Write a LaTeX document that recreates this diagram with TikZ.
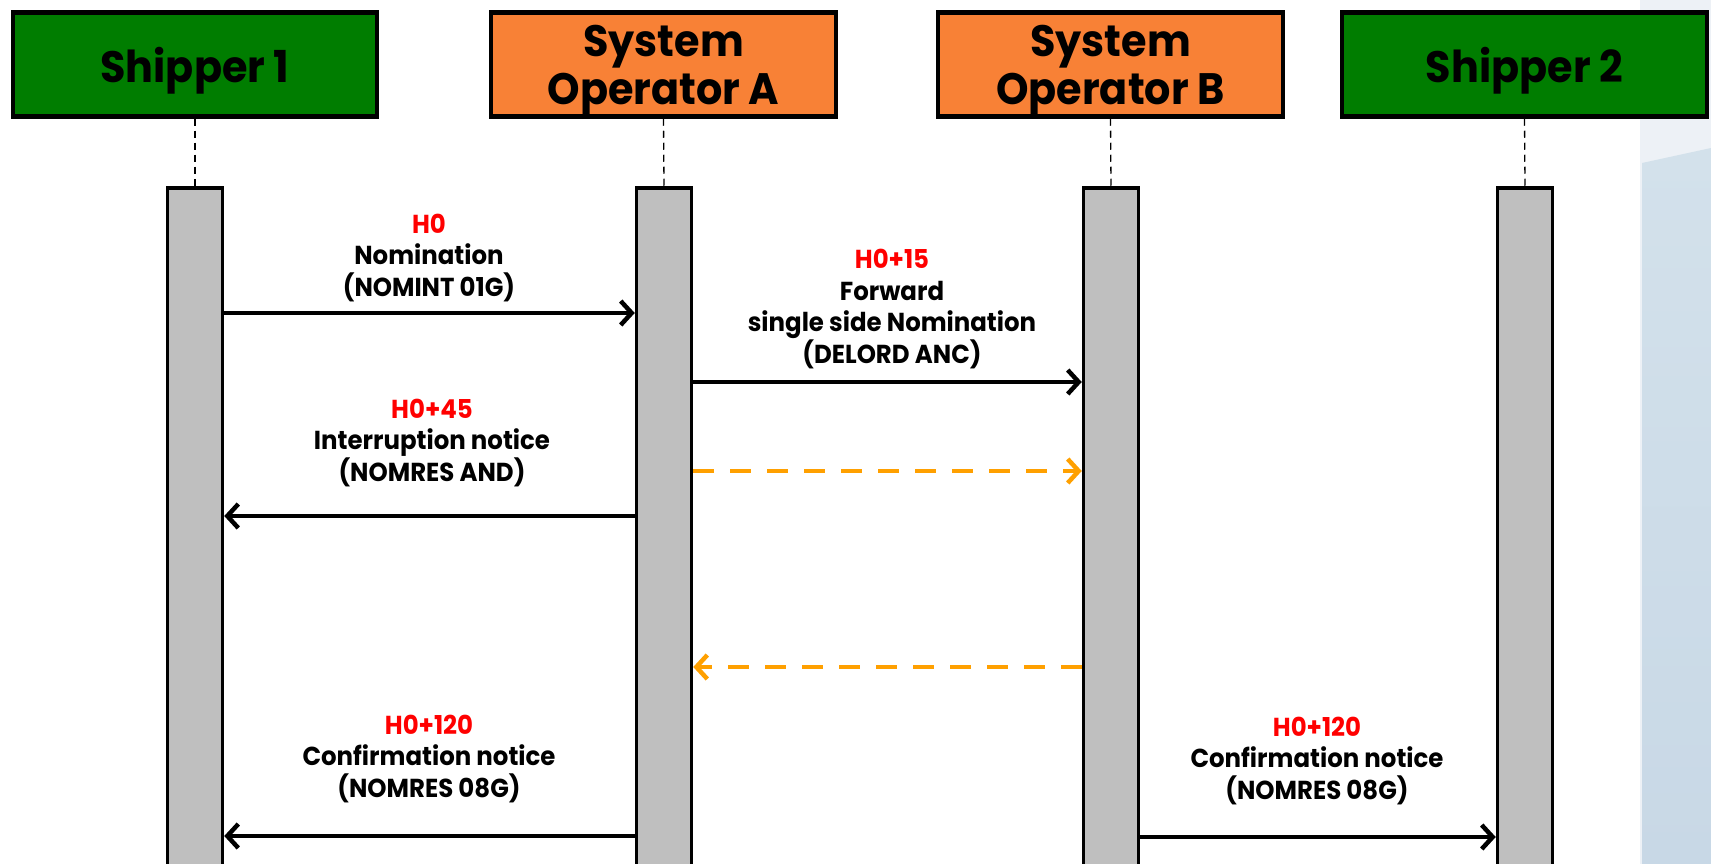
\documentclass[tikz,border=0pt]{standalone}
\usepackage{fontspec}
\setmainfont{Poppins}[FakeStretch=0.94]
\usetikzlibrary{arrows.meta}
\definecolor{shipgreen}{HTML}{007D00}
\definecolor{sysorange}{HTML}{F88136}
\definecolor{bargray}{HTML}{BFBFBF}
\definecolor{dashorange}{HTML}{FFA000}
\definecolor{timered}{HTML}{FF0000}
\definecolor{bgtop}{HTML}{EDF1F6}
\definecolor{bgmid}{HTML}{D3E1EB}
\definecolor{bgbot}{HTML}{C8D8E6}
\begin{document}
\begin{tikzpicture}[x=1pt,y=-1pt,
  actor/.style={draw=black, line width=4.5pt, minimum height=104pt, inner sep=0pt},
  shipper/.style={actor, fill=shipgreen},
  sysop/.style={actor, fill=sysorange},
  hdr/.style={align=center, inner sep=0pt, text=black, font=\bfseries\fontsize{44}{48}\selectfont},
  lifebar/.style={draw=black, fill=bargray, line width=3.5pt, minimum width=55pt,
    minimum height=720pt, inner sep=0pt, anchor=north},
  lifeline/.style={draw=black, line width=1.3pt, dash pattern=on 7pt off 5pt},
  msg/.style={draw=black, line width=4.5pt, -{Straight Barb[length=11pt,width=24pt,line width=4.5pt]}},
  dmsg/.style={draw=dashorange, line width=4.5pt, dash pattern=on 21pt off 16pt,
    -{Straight Barb[length=11pt,width=24pt,line width=4.5pt]}},
  lbl/.style={align=center, inner sep=0pt, text=black,
    font=\bfseries\fontsize{26}{31.6}\selectfont},
]
\useasboundingbox (0,0) rectangle (1711,864);
\clip (0,0) rectangle (1711,864);
\fill[bgtop] (1640,0) rectangle (1711,864);
\shade[top color=bgmid, bottom color=bgbot] (1642,163) -- (1711,148) -- (1711,864) -- (1642,864) -- cycle;

% actors
\node[shipper, minimum width=364pt] (s1) at (195,64.5) {};
\node[sysop, minimum width=345pt] (sa) at (663.5,64.5) {};
\node[sysop, minimum width=345pt] (sb) at (1110.5,64.5) {};
\node[shipper, minimum width=365pt] (s2) at (1524.5,64.5) {};
\node[hdr] (s1t) at ([yshift=-6pt]s1.center) {Shipper 1};
\node[hdr] (sat) at ([yshift=-6pt]sa.center) {System\\Operator A};
\node[hdr] (sbt) at ([yshift=-6pt]sb.center) {System\\Operator B};
\node[hdr] (s2t) at ([yshift=-6pt]s2.center) {Shipper 2};

% activation bars
\node[lifebar] (b1) at (195,186) {};
\node[lifebar] (ba) at (664,186) {};
\node[lifebar] (bb) at (1111,186) {};
\node[lifebar] (b2) at (1525,186) {};

% lifelines
\draw[lifeline] (s1.south) -- (b1.north);
\draw[lifeline] (sa.south) -- (ba.north);
\draw[lifeline] (sb.south) -- (bb.north);
\draw[lifeline] (s2.south) -- (b2.north);

% messages
\draw[msg] (b1.east |- 0,313) -- (ba.west |- 0,313);
\draw[msg] (ba.east |- 0,382) -- (bb.west |- 0,382);
\draw[dmsg] (ba.east |- 0,471) -- (bb.west |- 0,471);
\draw[msg] (ba.west |- 0,516) -- (b1.east |- 0,516);
\draw[dmsg] (bb.west |- 0,667) -- (ba.east |- 0,667);
\draw[msg] (ba.west |- 0,836) -- (b1.east |- 0,836);
\draw[msg] (bb.east |- 0,837) -- (b2.west |- 0,837);

% labels
\node[lbl] (l1) at (429,258) {\textcolor{timered}{H0}\\Nomination\\(NOMINT 01G)};
\node[lbl] (l2) at (892,309) {\textcolor{timered}{H0+15}\\Forward\\single side Nomination\\(DELORD ANC)};
\node[lbl] (l4) at (432,443) {\textcolor{timered}{H0+45}\\Interruption notice\\(NOMRES AND)};
\node[lbl] (l6) at (429,759) {\textcolor{timered}{H0+120}\\Confirmation notice\\(NOMRES 08G)};
\node[lbl] (l7) at (1317,761) {\textcolor{timered}{H0+120}\\Confirmation notice\\(NOMRES 08G)};
\end{tikzpicture}
\end{document}
